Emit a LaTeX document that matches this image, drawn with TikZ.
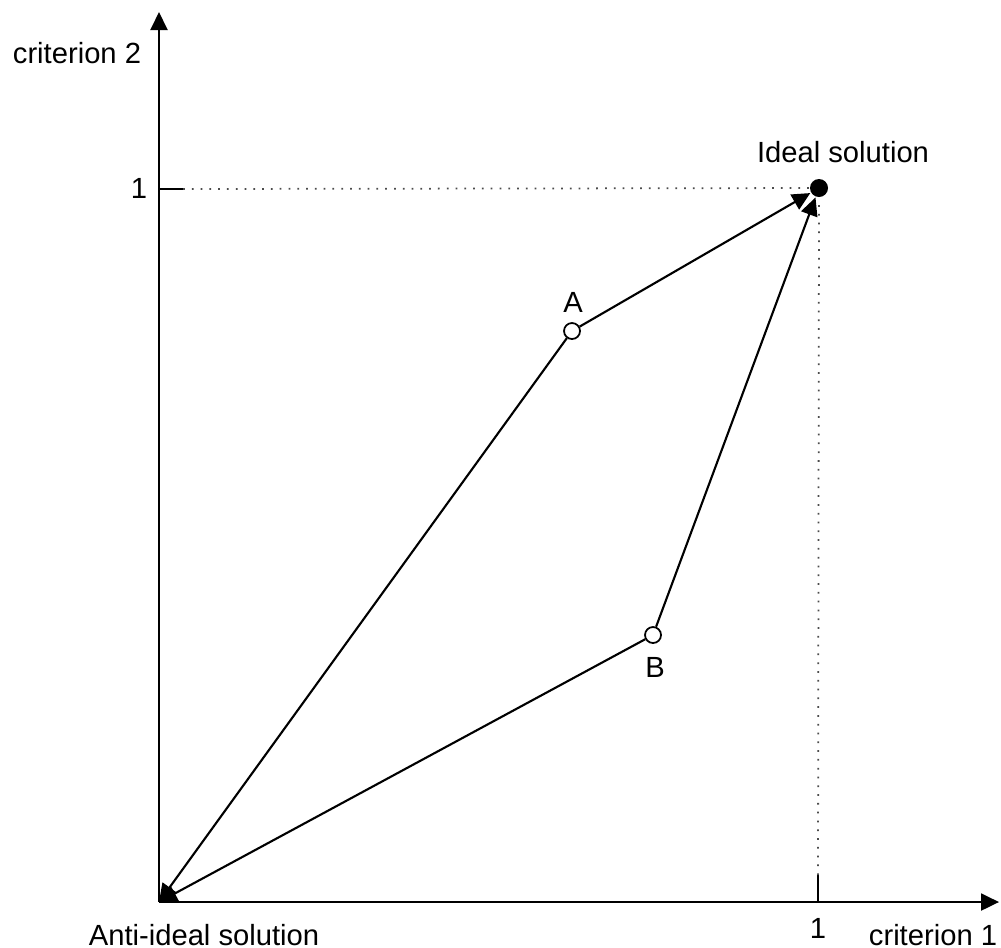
\documentclass[tikz,border=0pt]{standalone}
\usepackage{fontspec}
\setmainfont{Liberation Sans}
\usetikzlibrary{arrows.meta}

\begin{document}
\begin{tikzpicture}[x=0.01cm, y=-0.01cm, line width=0.6pt,
    lbl/.style={font=\fontsize{8.3}{10}\selectfont, inner sep=0pt},
    alt/.style={circle, draw, fill=white, minimum size=0.16cm, inner sep=0pt, line width=0.5pt},
    arr/.style={-{Triangle[length=0.18cm,width=0.17cm]}},
    guide/.style={dotted, line width=0.5pt, black!70}]
        \useasboundingbox (0,0) rectangle (1001,947);
        % axes
        \coordinate (O) at (159,902);
        \coordinate (xend) at (999,902);
        \coordinate (yend) at (159,12);
        \draw[arr] (O) -- (xend);
        \draw[arr] (O) -- (yend);
        % ticks and guides
        \coordinate (tx) at (818,875);
        \coordinate (ty) at (183,189);
        \node[circle, fill=black, minimum size=0.18cm, inner sep=0pt] (ideal) at (819,188) {};
        \draw (818,902) -- (tx);
        \draw (159,189) -- (ty);
        \draw[guide] (tx) -- (ideal);
        \draw[guide] (ty) -- (ideal);
        % alternatives
        \node[alt] (A) at (572,331) {};
        \node[alt] (B) at (653,635) {};
        \draw[arr] (A) -- (ideal);
        \draw[arr] (B) -- (ideal);
        \draw[arr] (A) -- (O);
        \draw[arr] (B) -- (O);
        % labels
        \node[lbl] (labA) at (573,302) {A};
        \node[lbl] (labB) at (655,667) {B};
        \node[lbl] (labideal) at (843,152) {Ideal solution};
        \node[lbl] (labanti) at (204,935) {Anti-ideal solution};
        \node[lbl] (crit1) at (933,935) {criterion 1};
        \node[lbl] (crit2) at (77,53) {criterion 2};
        \node[lbl] (one1) at (818,928) {1};
        \node[lbl] (one2) at (139,188) {1};
    \end{tikzpicture}
\end{document}
